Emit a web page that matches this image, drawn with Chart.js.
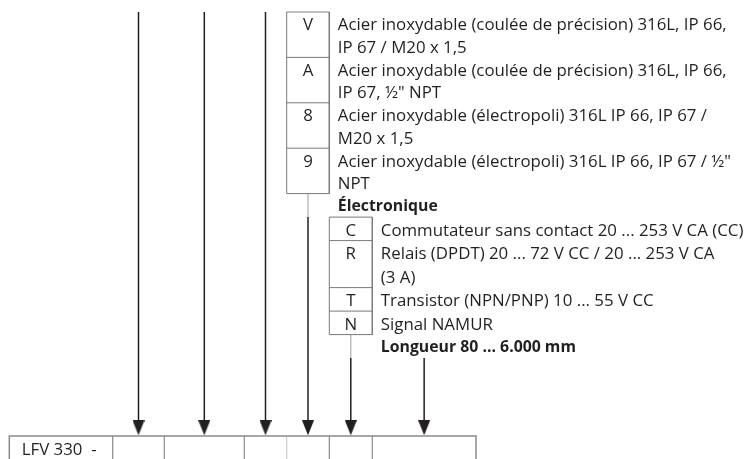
<!DOCTYPE html>
<html><head><meta charset="utf-8">
<script src="https://cdn.jsdelivr.net/npm/chart.js@4"></script>
<style>html,body{margin:0;padding:0;background:#fff}canvas{display:block}</style>
</head><body>
<canvas id="c" width="754" height="459"></canvas>
<script>
// ---------- data ----------
const orderPrefix = 'LFV 330  -';
const housingCodes = ['V', 'A', '8', '9'];
const housingLabels = [
  ['Acier inoxydable (coulée de précision) 316L, IP 66,', 'IP 67 / M20 x 1,5'],
  ['Acier inoxydable (coulée de précision) 316L, IP 66,', 'IP 67, ½" NPT'],
  ['Acier inoxydable (électropoli) 316L IP 66, IP 67 /', 'M20 x 1,5'],
  ['Acier inoxydable (électropoli) 316L IP 66, IP 67 / ½"', 'NPT']
];
const electronicsTitle = 'Électronique';
const electronicsCodes = ['C', 'R', 'T', 'N'];
const electronicsLabels = [
  ['Commutateur sans contact 20 ... 253 V CA (CC)'],
  ['Relais (DPDT) 20 ... 72 V CC / 20 ... 253 V CA', '(3 A)'],
  ['Transistor (NPN/PNP) 10 ... 55 V CC'],
  ['Signal NAMUR']
];
const lengthTitle = 'Longueur 80 ... 6.000 mm';

// ---------- layout ----------
const W = 754, H = 459;
const cellEdges = [9.3, 112.7, 164.3, 244.3, 286.7, 329.3, 372.3, 476];
const topY = 12;
const codeBoxTop = 436;
const textPad = 8.5;
const textDy = 2.2;
const FAMILY = '"Open Sans", "Liberation Sans", Arial, sans-serif';
const TXT = '#231f20';
const BOX = '#7a7a7a';

let REG = 'normal 15.3px ' + FAMILY;
let BOLD = 'bold 14.4px ' + FAMILY;
const mctx = document.createElement('canvas').getContext('2d');
function fitSize(text, weight, target, fallback) {
  mctx.font = weight + ' 20px ' + FAMILY;
  const w = mctx.measureText(text).width;
  const s = 20 * target / w;
  return (isFinite(s) && s > 12 && s < 19) ? s : fallback;
}
function computeFonts() {
  REG = 'normal ' + fitSize(housingLabels[0][0], 'normal', 389, 15.3).toFixed(2) + 'px ' + FAMILY;
  BOLD = 'bold ' + fitSize(electronicsTitle, 'bold', 100, 14.4).toFixed(2) + 'px ' + FAMILY;
}

const groups = [
  { cell: 4, title: null, codes: housingCodes, labels: housingLabels, pitch: 22.7 },
  { cell: 5, title: electronicsTitle, codes: electronicsCodes, labels: electronicsLabels, pitch: 23.5 },
  { cell: 6, title: lengthTitle, codes: [], labels: [], pitch: 23.5 }
];
let cursor = topY;
groups.forEach(g => {
  if (g.title) { g.titleY = cursor + g.pitch / 2; cursor += g.pitch; }
  g.top = cursor;
  g.rows = [];
  g.codes.forEach((c, i) => {
    const n = g.labels[i].length;
    g.rows.push({ code: c, lines: g.labels[i], top: cursor, bottom: cursor + n * g.pitch });
    cursor += n * g.pitch;
  });
  g.bottom = cursor;
});
const cellCenter = i => (cellEdges[i] + cellEdges[i + 1]) / 2;

const arrowTipY = codeBoxTop - 0.7;
const headH = 15, headW = 12;
const shaft = [], grayLinks = [], heads = [];
for (let c = 1; c < cellEdges.length - 1; c++) {
  const gi = groups.findIndex(g => g.cell === c);
  let start = topY;
  if (gi >= 0) {
    const g = groups[gi];
    if (g.codes.length) {
      const next = groups[gi + 1];
      start = next ? next.top : g.bottom;
      grayLinks.push({ x: cellCenter(c), y: g.bottom }, { x: cellCenter(c), y: start }, { x: null, y: null });
    } else {
      start = g.top;
    }
  }
  shaft.push({ x: cellCenter(c), y: start }, { x: cellCenter(c), y: arrowTipY - headH + 1 }, { x: null, y: null });
  heads.push({ x: cellCenter(c), y: arrowTipY - headH / 2 });
}

const boxes = [];
groups.forEach(g => {
  if (!g.codes.length) return;
  const l = cellEdges[g.cell], r = cellEdges[g.cell + 1];
  boxes.push({ x: l, y: g.top }, { x: r, y: g.top }, { x: r, y: g.bottom }, { x: l, y: g.bottom }, { x: l, y: g.top }, { x: null, y: null });
  g.rows.slice(1).forEach(row => boxes.push({ x: l, y: row.top }, { x: r, y: row.top }, { x: null, y: null }));
});

const codeBox = [
  { x: cellEdges[0], y: H + 5 }, { x: cellEdges[0], y: codeBoxTop },
  { x: cellEdges[cellEdges.length - 1], y: codeBoxTop }, { x: cellEdges[cellEdges.length - 1], y: H + 5 }, { x: null, y: null }
];
const codeDividers = [], codeDividersLight = [];
for (let i = 1; i < cellEdges.length - 1; i++) {
  const arr = i === 4 ? codeDividersLight : codeDividers;
  arr.push({ x: cellEdges[i], y: codeBoxTop }, { x: cellEdges[i], y: H + 5 }, { x: null, y: null });
}

const headImg = document.createElement('canvas');
headImg.width = headW; headImg.height = headH;
(function () {
  const x = headImg.getContext('2d');
  x.fillStyle = TXT;
  x.beginPath(); x.moveTo(0, 0); x.lineTo(headW, 0); x.lineTo(headW / 2, headH); x.closePath(); x.fill();
})();

const lineDs = (label, data, color, width) => ({
  type: 'line', label, data, borderColor: color, borderWidth: width, pointRadius: 0,
  fill: false, spanGaps: false, tension: 0
});

const textPlugin = {
  id: 'orderText',
  afterDatasetsDraw(chart) {
    const ctx = chart.ctx, xs = chart.scales.x, ys = chart.scales.y;
    const X = v => xs.getPixelForValue(v), Y = v => ys.getPixelForValue(v + textDy);
    ctx.save();
    ctx.fillStyle = TXT;
    ctx.textBaseline = 'middle';
    groups.forEach(g => {
      const l = cellEdges[g.cell], r = cellEdges[g.cell + 1];
      if (g.title) {
        ctx.font = BOLD;
        ctx.textAlign = 'left';
        ctx.fillText(g.title, X(l + textPad), Y(g.titleY - 1));
      }
      g.rows.forEach(row => {
        ctx.font = REG;
        ctx.textAlign = 'center';
        ctx.fillText(row.code, X((l + r) / 2), Y(row.top + g.pitch / 2));
        ctx.textAlign = 'left';
        row.lines.forEach((t, k) => ctx.fillText(t, X(r + textPad), Y(row.top + g.pitch * (k + 0.5))));
      });
    });
    ctx.font = REG;
    ctx.textAlign = 'left';
    ctx.fillText(orderPrefix, X(cellEdges[0] + 12.4), Y(codeBoxTop + 12.5));
    ctx.restore();
  }
};

const chart = new Chart(document.getElementById('c'), {
  type: 'scatter',
  data: {
    datasets: [
      lineDs('codeBox', codeBox, '#8a8a8a', 1.5),
      lineDs('codeDividers', codeDividers, '#8a8a8a', 1.2),
      lineDs('codeDividersLight', codeDividersLight, '#cccccc', 1.2),
      lineDs('boxes', boxes, BOX, 1),
      lineDs('grayLinks', grayLinks, '#b0b0b0', 1.2),
      lineDs('shafts', shaft, TXT, 1.5),
      { type: 'scatter', label: 'heads', data: heads, pointStyle: headImg, pointRadius: 6, pointHoverRadius: 6 }
    ]
  },
  options: {
    responsive: false,
    devicePixelRatio: 1,
    animation: false,
    events: [],
    layout: { padding: 0, autoPadding: false },
    plugins: { legend: { display: false }, tooltip: { enabled: false } },
    scales: {
      x: { type: 'linear', min: 0, max: W, display: false },
      y: { type: 'linear', min: 0, max: H, reverse: true, display: false }
    }
  },
  plugins: [textPlugin]
});

if (document.fonts && document.fonts.load) {
  Promise.all([
    document.fonts.load('normal 20px "Open Sans"'),
    document.fonts.load('bold 20px "Open Sans"')
  ]).then(() => { computeFonts(); chart.draw(); }).catch(() => {});
}
</script>
</body></html>
